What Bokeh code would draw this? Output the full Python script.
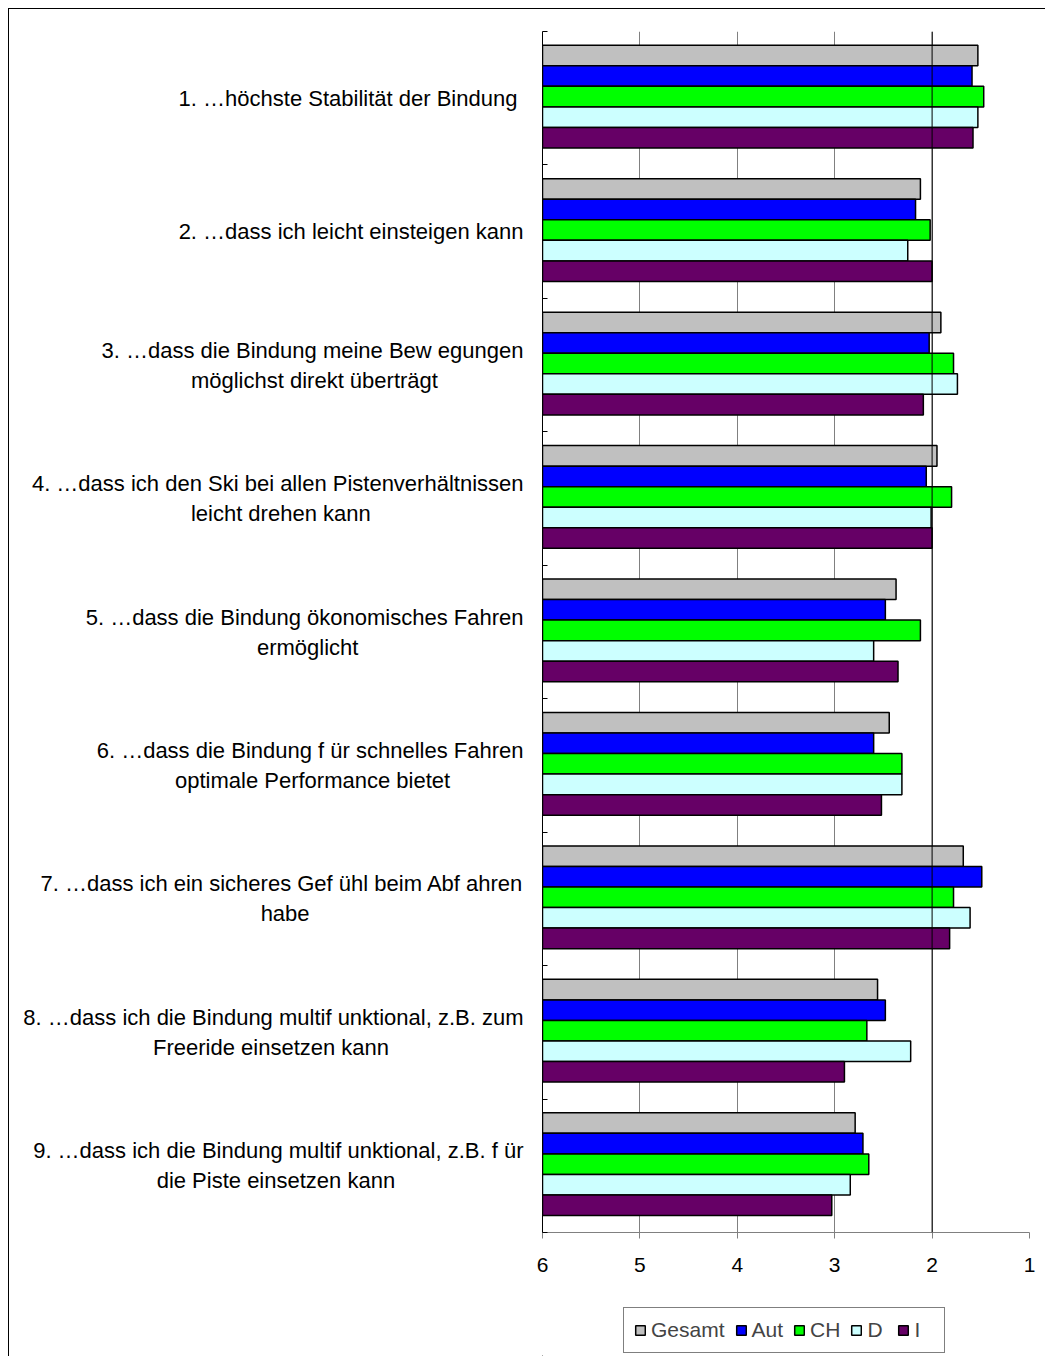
import pandas as pd
from bokeh.plotting import figure
from bokeh.layouts import column
from bokeh.models import (Range1d, FixedTicker, ColumnDataSource,
                          Legend, LegendItem, Span)
from bokeh.embed import file_html
from bokeh.resources import INLINE

# ---------------- data ----------------
NB = "\u00a0"
label_line1 = [
    "1. \u2026höchste Stabilität der Bindung" + NB,
    "2. \u2026dass ich leicht einsteigen kann",
    "3. \u2026dass die Bindung meine Bew egungen",
    "4. \u2026dass ich den Ski bei allen Pistenverhältnissen",
    "5. \u2026dass die Bindung ökonomisches Fahren",
    "6. \u2026dass die Bindung f ür schnelles Fahren",
    "7. \u2026dass ich ein sicheres Gef ühl beim Abf ahren",
    "8. \u2026dass ich die Bindung multif unktional, z.B. zum",
    "9. \u2026dass ich die Bindung multif unktional, z.B. f ür",
]
label_line2 = [
    "",
    "",
    "möglichst direkt überträgt",
    "leicht drehen kann",
    "ermöglicht",
    "optimale Performance bietet",
    "habe",
    "Freeride einsetzen kann",
    "die Piste einsetzen kann",
]
series = ["Gesamt", "Aut", "CH", "D", "I"]
gesamt = [1.53, 2.12, 1.91, 1.95, 2.37, 2.44, 1.68, 2.56, 2.79]
aut    = [1.59, 2.17, 2.03, 2.06, 2.48, 2.60, 1.49, 2.48, 2.71]
ch     = [1.47, 2.02, 1.78, 1.80, 2.12, 2.31, 1.78, 2.67, 2.65]
d      = [1.53, 2.25, 1.74, 2.01, 2.60, 2.31, 1.61, 2.22, 2.84]
i_vals = [1.58, 2.00, 2.09, 2.00, 2.35, 2.52, 1.82, 2.90, 3.03]
colors = ["#C0C0C0", "#0000FF", "#00FF00", "#CCFFFF", "#660066"]
x_ticks = [6, 5, 4, 3, 2, 1]

values = [gesamt, aut, ch, d, i_vals]
n = len(label_line1)

# ---------------- layout ----------------
W = 1045
H1, H2 = 1290, 66
ML, MR, MT, MB = 542, 16, 31, 58
FONT = "Liberation Sans"
LABEL_PX = 22

# Arial / Liberation Sans advance widths (per 1000 em), used to centre 2nd lines
CW = {' ': 278, NB: 278, '.': 278, ',': 278, '\u2026': 1000,
      'a': 556, 'b': 556, 'c': 500, 'd': 556, 'e': 556, 'f': 278, 'g': 556,
      'h': 556, 'i': 222, 'j': 222, 'k': 500, 'l': 222, 'm': 833, 'n': 556,
      'o': 556, 'p': 556, 'q': 556, 'r': 333, 's': 500, 't': 278, 'u': 556,
      'v': 500, 'w': 722, 'x': 500, 'y': 500, 'z': 500,
      'ä': 556, 'ö': 556, 'ü': 556,
      'A': 667, 'B': 667, 'C': 722, 'D': 722, 'F': 611, 'G': 778, 'H': 722,
      'I': 278, 'P': 667, 'S': 667}


def text_w(s):
    return sum(CW.get(ch_, 556) for ch_ in s) / 1000.0 * LABEL_PX


def make_label(l1, l2):
    if not l2:
        return l1
    pad = max(0, int(round((text_w(l1) - text_w(l2)) / 2 / text_w(NB))))
    return l1 + "\n" + l2 + NB * pad


p = figure(width=W, height=H1, x_range=Range1d(6, 1), y_range=Range1d(0, n),
           output_backend="svg", toolbar_location=None,
           min_border_left=ML, min_border_right=MR,
           min_border_top=MT, min_border_bottom=MB)
p.border_fill_color = None
p.outline_line_color = None
p.background_fill_color = "white"

# grid
p.xgrid.ticker = FixedTicker(ticks=x_ticks)
p.xgrid.grid_line_color = "#808080"
p.xgrid.grid_line_width = 1
p.ygrid.grid_line_color = None
p.add_layout(Span(location=2, dimension="height", line_color="#000000",
                  line_width=1))

# bars
bar_h = 0.154
shift = 0.012
offsets = [2 * bar_h + shift, bar_h + shift, shift, -bar_h + shift, -2 * bar_h + shift]
renderers = []
for k, name in enumerate(series):
    df = pd.DataFrame({
        "y": [n - 0.5 - j + offsets[k] for j in range(n)],
        "v": values[k],
    })
    r = p.hbar(y="y", right="v", left=6, height=bar_h,
               source=ColumnDataSource(df), fill_color=colors[k],
               line_color="#000000", line_width=1.5)
    renderers.append(r)

# x axis
xa = p.xaxis[0]
xa.ticker = FixedTicker(ticks=x_ticks)
xa.axis_line_color = "#808080"
xa.major_tick_line_color = "#808080"
xa.major_tick_in = 0
xa.major_tick_out = 6
xa.minor_tick_line_color = None
xa.major_label_text_font = FONT
xa.major_label_text_font_size = "21px"
xa.major_label_text_color = "#000000"
xa.major_label_standoff = 19

# y axis: labels at category centres, small inner ticks at boundaries
centers = [n - 0.5 - j for j in range(n)]
ya = p.yaxis[0]
ya.ticker = FixedTicker(ticks=centers, minor_ticks=list(range(n + 1)))
ya.major_label_overrides = {
    c: make_label(l1, l2) for c, l1, l2 in zip(centers, label_line1, label_line2)
}
ya.axis_line_color = "#000000"
ya.major_tick_in = 0
ya.major_tick_out = 0
ya.minor_tick_in = 5
ya.minor_tick_out = 0
ya.minor_tick_line_color = "#000000"
ya.major_label_standoff = 19
ya.major_label_text_font = FONT
ya.major_label_text_font_size = f"{LABEL_PX}px"
ya.major_label_text_color = "#000000"
ya.major_label_text_line_height = 1.2

# legend in a small figure underneath; proxy bars (one row each, placed
# far outside the visible ranges) carry the same styles as the chart's bars
q = figure(width=W, height=H2, x_range=Range1d(0, 1), y_range=Range1d(0, 1),
           output_backend="svg", toolbar_location=None,
           x_axis_location=None, y_axis_location=None,
           min_border_left=ML, min_border_right=MR,
           min_border_top=0, min_border_bottom=0)
q.grid.visible = False
q.outline_line_color = None
q.border_fill_color = None
q.background_fill_color = None
leg_items = []
for s, c in zip(series, colors):
    rr = q.hbar(y=[-50], right=[-40], left=-41, height=0.1, fill_color=c,
                line_color="#000000", line_width=1.5)
    leg_items.append(LegendItem(label=s, renderers=[rr]))
legend = Legend(items=leg_items, orientation="horizontal", location=(81, 3))
legend.border_line_color = "#000000"
legend.border_line_width = 1
legend.background_fill_color = "white"
legend.glyph_width = 12
legend.glyph_height = 12
legend.label_text_font = FONT
legend.label_text_font_size = "21px"
legend.padding = 10
legend.spacing = 10
legend.label_standoff = 5
legend.margin = 0
q.add_layout(legend, "center")

layout = column(p, q, spacing=0)
layout.styles = {"background": "linear-gradient(#000,#000) 8px 8px / 100% 1px no-repeat, "
                               "linear-gradient(#000,#000) 8px 8px / 1px 100% no-repeat, #fff"}

open("out.html", "w").write(file_html(layout, INLINE))
